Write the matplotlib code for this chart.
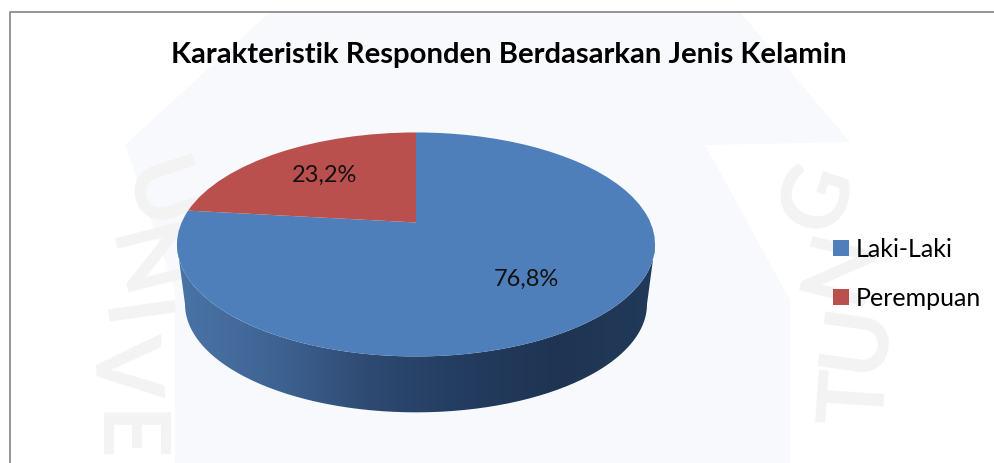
import numpy as np
import matplotlib
matplotlib.use("Agg")
import matplotlib.pyplot as plt
from matplotlib.colors import LinearSegmentedColormap
from matplotlib.patches import Polygon, PathPatch
from matplotlib.path import Path
from matplotlib.transforms import Transform

# data
title = "Karakteristik Responden Berdasarkan Jenis Kelamin"
categories = ["Laki-Laki", "Perempuan"]
values = [76.8, 23.2]
colors = ["#4e7fba", "#ba504e"]
wall_stops = ["#4a74a6", "#3f6494", "#2e4a72", "#233c60", "#1f3452", "#213a5a"]

# faint seal letters showing through the scan: letter, x, y, rotation
mark_letters = ["U", "N", "I", "V", "E", "G", "N", "U", "T"]
mark_x = [156, 140, 127, 122, 122, 820, 841, 857, 858]
mark_y = [197, 265, 318, 367, 437, 197, 265, 338, 397]
mark_rot = [-72, -76, -82, -86, -90, 72, 76, 82, 86]

plt.rcParams["font.family"] = ["Lato", "DejaVu Sans"]


class Tilt(Transform):
    # seen-from-above projection of the unit disc, result in pixels
    input_dims = 2
    output_dims = 2

    def __init__(self, cx, cy, a, b, k):
        super().__init__()
        self.cx, self.cy, self.a, self.b, self.k = cx, cy, a, b, k

    def transform_non_affine(self, values):
        values = np.asarray(values)
        w = 1 + self.k*values[:, 1]
        return np.column_stack((self.cx + self.a*values[:, 0]/w,
                                self.cy - self.b*values[:, 1]/w))


k = 0.196
top = Tilt(416, 222.5, 234.4, 107.7, k)
bottom = Tilt(416, 283, 226.5, 104, k)

fig = plt.figure(figsize=(9.95, 4.63), dpi=100)
ax = fig.add_axes([0, 0, 1, 1])

wedges, texts, autotexts = ax.pie(values, colors=colors, startangle=90, counterclock=False,
                                  pctdistance=0.64, wedgeprops={"linewidth": 0},
                                  autopct=lambda p: f"{p:.1f}%".replace(".", ","),
                                  textprops={"fontsize": 17, "color": "#111111"})
ax.set_aspect("auto")
ax.set_xlim(0, 995)
ax.set_ylim(463, 0)
ax.set_axis_off()

for w in wedges:
    w.set_transform(top + ax.transData)
    w.set_zorder(4)
for t in autotexts:
    t.set_transform(top + ax.transData)
    t.set_zorder(5)

# pale watermark area behind the chart
ax.add_patch(Polygon([(270, 12), (740, 12), (850, 142), (705, 145), (790, 300), (790, 463),
                      (175, 463), (175, 290), (125, 145)],
                     closed=True, fc="#f8f9fc", ec="none", zorder=0))
for s, x, y, r in zip(mark_letters, mark_x, mark_y, mark_rot):
    ax.text(x, y, s, fontsize=66, fontweight="bold", color="#f3f3f4", rotation=r,
            ha="center", va="center", zorder=1)

# side wall, horizontal shading clipped to the band between both rims
ang = np.radians(np.linspace(180 + np.degrees(np.arcsin(k)), 360 - np.degrees(np.arcsin(k)), 200))
rim = np.column_stack((np.cos(ang), np.sin(ang)))
outline = np.vstack((top.transform(rim), bottom.transform(rim)[::-1]))
wall = PathPatch(Path(outline), transform=ax.transData, fc="none", ec="none")
ax.add_patch(wall)
cmap = LinearSegmentedColormap.from_list("wall", wall_stops)
im = ax.imshow(np.linspace(0, 1, 256).reshape(1, -1), cmap=cmap, aspect="auto",
               extent=(177, 655, 463, 0), zorder=2)
im.set_clip_path(wall)
ax.set_xlim(0, 995)
ax.set_ylim(463, 0)

# frame
ax.plot([10, 10, 995], [463, 12, 12], color="#8c8c8c", lw=1.3, zorder=6)

ax.text(508.5, 55, title, fontsize=21.1, fontweight="bold", color="black",
        ha="center", va="center", zorder=6)

ax.legend(wedges, categories, loc="upper left", bbox_to_anchor=(826/995, 1 - 230.5/463),
          frameon=False, fontsize=18, handlelength=0.62, handleheight=0.62,
          handletextpad=0.28, labelspacing=1.02, borderaxespad=0, borderpad=0.3)

plt.savefig("out.png", dpi=100)
